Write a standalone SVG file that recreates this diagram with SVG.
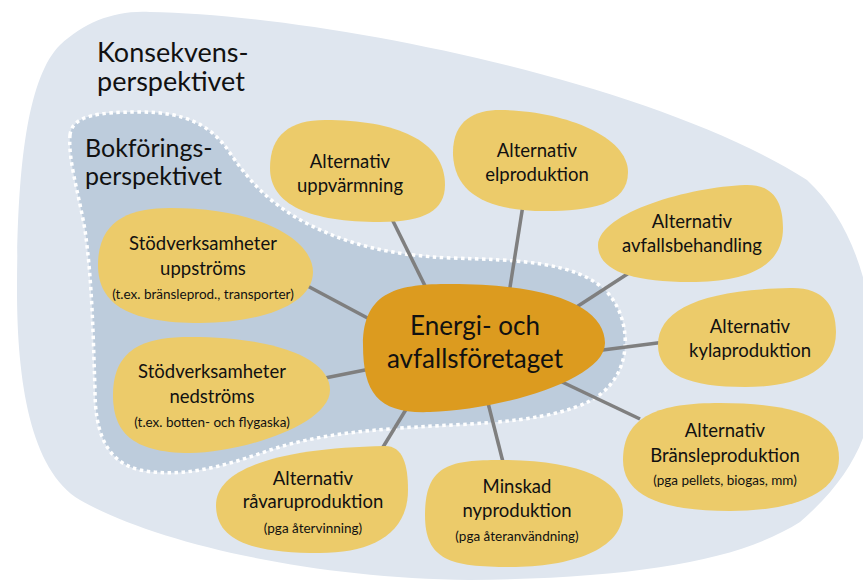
<svg xmlns="http://www.w3.org/2000/svg" width="863" height="580" viewBox="0 0 863 580">
<style>
.blob{fill:#ECCB6A}
.core{fill:#DC9B1F}
.t{font-family:Lato,"Liberation Sans",sans-serif;fill:#111;text-anchor:middle;font-size:18.5px}
.s{font-size:13.5px}
.big{font-size:26px}
.h{font-family:Lato,"Liberation Sans",sans-serif;fill:#111}
.conn line{stroke:#7F7F7F;stroke-width:3.5}
</style>
<rect width="863" height="580" fill="#fff"/>
<g id="konsekvens">
<path d="M150,12 C320,15 650,80 807,180 C850,220 870,280 875,350 C878,420 860,470 800,522 C740,560 640,578 470,580 C300,578 150,540 80,500 C30,470 17,380 17,290 C17,180 25,80 60,45 C85,22 115,10 150,12 Z" fill="#DFE6EF"/>
<text class="h" x="97" y="62" font-size="27">Konsekvens-</text>
<text class="h" x="97" y="91" font-size="27">perspektivet</text>
</g>
<g id="bokforing">
<path d="M70,135 C72,115 100,112 140,112 C185,112 210,125 228,150 C248,180 270,205 310,225 C350,245 390,255 450,258 C520,260 575,262 605,290 C630,315 632,360 610,385 C590,410 540,420 470,424 C400,428 330,430 270,450 C220,468 180,478 140,470 C105,462 95,430 95,390 C93,330 92,280 85,230 C78,190 68,160 70,135 Z" fill="#BDCCDC" stroke="#fff" stroke-width="3.5" stroke-dasharray="3.5 3.5"/>
<text class="h" x="85" y="157" font-size="25">Bokförings-</text>
<text class="h" x="85" y="185" font-size="25">perspektivet</text>
</g>
<g id="connectors" class="conn">
<line x1="390" y1="215" x2="432" y2="300"/>
<line x1="523" y1="205" x2="508" y2="300"/>
<line x1="632" y1="271" x2="575" y2="308"/>
<line x1="595" y1="351" x2="665" y2="342"/>
<line x1="560" y1="381" x2="640" y2="419"/>
<line x1="486" y1="395" x2="505" y2="470"/>
<line x1="413" y1="398" x2="380" y2="452"/>
<line x1="320" y1="379" x2="380" y2="367"/>
<line x1="300" y1="282" x2="375" y2="322"/>
</g>
<g id="uppvarmning">
<path class="blob" d="M270,168 C270,135 290,120 325,120 C395,120 445,140 445,185 C445,210 425,222 380,222 C310,222 270,205 270,168 Z"/>
<text class="t" x="350" y="168">Alternativ</text>
<text class="t" x="350" y="192">uppvärmning</text>
</g>
<g id="elproduktion">
<path class="blob" d="M453,155 C452,120 475,110 500,110 C560,110 628,135 628,172 C628,205 590,211 545,211 C490,211 455,195 453,155 Z"/>
<text class="t" x="537" y="157">Alternativ</text>
<text class="t" x="537" y="181">elproduktion</text>
</g>
<g id="avfallsbehandling">
<path class="blob" d="M598,245 C600,212 690,187 745,185 C772,184 783,200 783,228 C783,265 750,282 690,282 C630,282 598,270 598,245 Z"/>
<text class="t" x="692" y="228">Alternativ</text>
<text class="t" x="692" y="252">avfallsbehandling</text>
</g>
<g id="kylaproduktion">
<path class="blob" d="M658,345 C658,310 700,290 790,288 C823,287 836,305 836,332 C836,375 790,387 745,387 C690,387 658,375 658,345 Z"/>
<text class="t" x="750" y="333">Alternativ</text>
<text class="t" x="750" y="357">kylaproduktion</text>
</g>
<g id="bransleproduktion">
<path class="blob" d="M623,460 C623,415 660,403 720,403 C800,403 839,420 839,458 C839,495 790,511 730,511 C660,511 623,495 623,460 Z"/>
<text class="t" x="725" y="437">Alternativ</text>
<text class="t" x="725" y="462">Bränsleproduktion</text>
<text class="t s" x="725" y="485">(pga pellets, biogas, mm)</text>
</g>
<g id="nyproduktion">
<path class="blob" d="M425,515 C425,465 450,460 500,460 C580,460 623,480 623,512 C623,550 570,567 510,567 C450,567 425,560 425,515 Z"/>
<text class="t" x="517" y="493">Minskad</text>
<text class="t" x="517" y="517">nyproduktion</text>
<text class="t s" x="517" y="541">(pga återanvändning)</text>
</g>
<g id="ravaruproduktion">
<path class="blob" d="M216,505 C216,468 280,448 385,446 C403,446 408,465 408,490 C408,535 370,553 320,553 C250,553 216,540 216,505 Z"/>
<text class="t" x="313" y="485">Alternativ</text>
<text class="t" x="313" y="508">råvaruproduktion</text>
<text class="t s" x="313" y="533">(pga återvinning)</text>
</g>
<g id="nedstroms">
<path class="blob" d="M113,395 C113,345 150,337 190,337 C280,337 330,360 330,390 C330,425 240,453 190,453 C130,453 113,430 113,395 Z"/>
<text class="t" x="212" y="378">Stödverksamheter</text>
<text class="t" x="212" y="403">nedströms</text>
<text class="t s" x="212" y="427">(t.ex. botten- och flygaska)</text>
</g>
<g id="uppstroms">
<path class="blob" d="M98,265 C98,220 130,208 170,208 C260,208 313,240 313,272 C313,305 260,323 200,323 C130,323 98,305 98,265 Z"/>
<text class="t" x="203" y="250">Stödverksamheter</text>
<text class="t" x="203" y="275">uppströms</text>
<text class="t s" x="203" y="299">(t.ex. bränsleprod., transporter)</text>
</g>
<g id="foretaget">
<path class="core" d="M363,345 C363,290 400,284 450,284 C560,284 605,310 605,343 C605,380 500,410 430,412 C380,414 363,395 363,345 Z"/>
<text class="t big" x="475" y="335">Energi- och</text>
<text class="t big" x="475" y="368">avfallsföretaget</text>
</g>
</svg>
